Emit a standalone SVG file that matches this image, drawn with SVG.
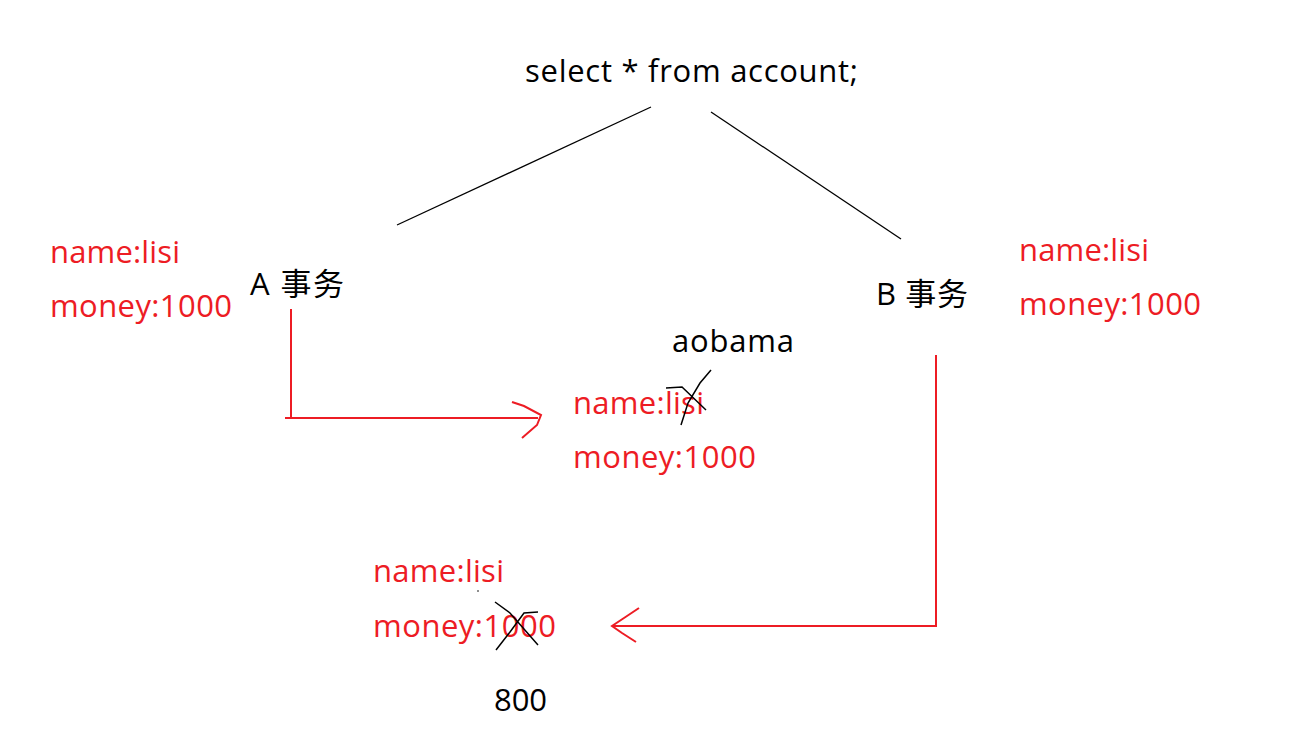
<svg xmlns="http://www.w3.org/2000/svg" width="1290" height="734" viewBox="0 0 1290 734">
<style>
text{font-family:"Open Sans","Noto Sans CJK SC",sans-serif;font-size:31px;lengthAdjust:spacingAndGlyphs}
.k{fill:#000}
.r{fill:#ED1C24}
.ln{stroke:#000;stroke-width:1.3;fill:none}
.rl{stroke:#ED1C24;stroke-width:2;fill:none}
.x{stroke:#000;stroke-width:1.5;fill:none}
</style>
<rect width="1290" height="734" fill="#fff"/>
<g id="query"><text class="k" x="525" y="82" textLength="333">select * from account;</text></g>
<g id="txA"><text class="k" x="250" y="295" textLength="94">A 事务</text></g>
<g id="txB"><text class="k" x="876" y="305" textLength="92">B 事务</text></g>
<g id="dataA"><text class="r" x="50" y="263" textLength="130">name:lisi</text><text class="r" x="50" y="317" textLength="182">money:1000</text></g>
<g id="dataB"><text class="r" x="1019" y="261" textLength="130">name:lisi</text><text class="r" x="1019" y="315" textLength="182">money:1000</text></g>
<g id="dataMid"><text class="k" x="672" y="352" textLength="122">aobama</text><text class="r" x="573" y="414" textLength="131">name:lisi</text><text class="r" x="573" y="468" textLength="183">money:1000</text>
<path class="x" d="M666,388 L682,387 L706,410 M711,370 L700,383 L688,403 L681,425"/></g>
<g id="dataBottom"><text class="r" x="373" y="582" textLength="131">name:lisi</text><text class="r" x="373" y="637" textLength="183">money:1000</text><text class="k" x="494" y="711" textLength="53">800</text>
<path class="x" d="M495,602 L510,613 L538,645 M538,612 L524,613 L510,632 L496,650"/>
<circle cx="478" cy="591" r="0.8" fill="#000"/></g>
<g id="connectors">
<path class="ln" d="M397,225 L651,107"/>
<path class="ln" d="M711,112 L901,239"/>
<path class="rl" d="M291,309 L291,418 M285,418 L538,418"/>
<path class="rl" d="M512,402 L524,406 L541,415 L537,425 L522,438"/>
<path class="rl" d="M936,355 L936,626 L612,626"/>
<path class="rl" d="M639,608 L624,618 L612,626 L622,633 L636,642"/>
</g>
</svg>
